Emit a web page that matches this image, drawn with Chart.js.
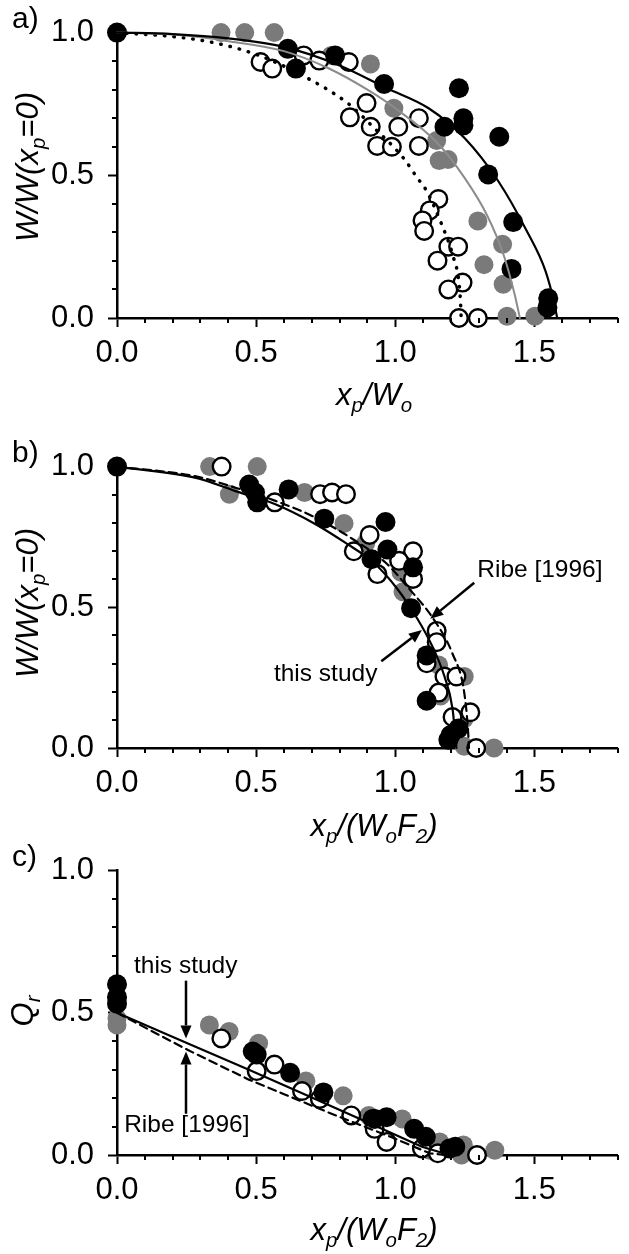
<!DOCTYPE html>
<html>
<head>
<meta charset="utf-8">
<script src="https://cdn.jsdelivr.net/npm/chart.js@4.4.1/dist/chart.umd.min.js"></script>
<style>
  body { margin: 0; background: #fff; width: 629px; height: 1254px; position: relative; overflow: hidden;
         font-family: "Liberation Sans", Arial, sans-serif; color: #000; }
  canvas { position: absolute; left: 0; }
  .lbl { position: absolute; font-size: 30px; line-height: 30px; white-space: nowrap; }
  .xt { position: absolute; font-size: 31px; line-height: 31px; font-style: italic; white-space: nowrap;
        transform: translateX(-50%); }
  .yt { position: absolute; font-size: 31px; line-height: 31px; font-style: italic; white-space: nowrap;
        transform: translate(-50%, -50%) rotate(-90deg); }
  .s { font-size: 0.66em; position: relative; top: 0.32em; }
</style>
</head>
<body>
<canvas id="chartA" width="629" height="400" style="top:0px"></canvas>
<canvas id="chartB" width="629" height="400" style="top:434px"></canvas>
<canvas id="chartC" width="629" height="400" style="top:838px"></canvas>

<div class="lbl" style="left:12px;top:3px">a)</div>
<div class="lbl" style="left:12px;top:437px">b)</div>
<div class="lbl" style="left:12px;top:841px">c)</div>

<div class="yt" style="left:29px;top:167px">W/W(x<span class="s">p</span>=0)</div>
<div class="yt" style="left:29px;top:603px">W/W(x<span class="s">p</span>=0)</div>
<div class="yt" style="left:24px;top:1011px">Q<span class="s">r</span></div>

<div class="xt" style="left:374px;top:379px">x<span class="s">p</span>/W<span class="s">o</span></div>
<div class="xt" style="left:374px;top:810px">x<span class="s">p</span>/(W<span class="s">o</span>F<span class="s">2</span>)</div>
<div class="xt" style="left:374px;top:1214px">x<span class="s">p</span>/(W<span class="s">o</span>F<span class="s">2</span>)</div>

<script>
// axis ticks
const xTicks = [0, 0.5, 1.0, 1.5];
const yTicks = [0, 0.5, 1.0];
const xMinor = [0.1, 0.2, 0.3, 0.4, 0.6, 0.7, 0.8, 0.9, 1.1, 1.2, 1.3, 1.4, 1.6, 1.7, 1.8];
const yMinor = [0.1, 0.2, 0.3, 0.4, 0.6, 0.7, 0.8, 0.9];

// panel a) W/W(xp=0) vs xp/Wo
const aBlack = [[0, 1.0], [0.614, 0.943], [0.643, 0.874], [0.784, 0.92], [0.96, 0.82], [1.229, 0.805],
  [1.177, 0.67], [1.245, 0.70], [1.245, 0.675], [1.374, 0.635], [1.334, 0.503], [1.424, 0.336],
  [1.418, 0.172], [1.55, 0.069], [1.547, 0.037]];
const aGray = [[0.374, 1.0], [0.459, 1.0], [0.565, 1.0], [0.77, 0.92], [0.911, 0.89], [0.995, 0.735],
  [1.149, 0.622], [1.158, 0.552], [1.19, 0.555], [1.297, 0.34], [1.386, 0.258], [1.319, 0.187],
  [1.388, 0.118], [1.402, 0.006], [1.502, 0.006]];
const aOpen = [[0.671, 0.92], [0.516, 0.897], [0.558, 0.874], [0.727, 0.902], [0.833, 0.897],
  [0.897, 0.753], [0.837, 0.703], [0.912, 0.67], [1.011, 0.67], [1.085, 0.70], [0.935, 0.603],
  [0.988, 0.6], [1.085, 0.603], [1.155, 0.417], [1.124, 0.377], [1.098, 0.342], [1.104, 0.305],
  [1.191, 0.25], [1.226, 0.25], [1.152, 0.201], [1.242, 0.124], [1.191, 0.1], [1.229, 0.0], [1.297, 0.0]];
const aSolid = [[0, 1.0], [0.2, 0.995], [0.4, 0.98], [0.6, 0.95], [0.8, 0.885], [0.97, 0.805], [1.12, 0.735],
  [1.25, 0.63], [1.37, 0.48], [1.47, 0.31], [1.54, 0.165], [1.572, 0.05], [1.582, 0]];
const aGrayLine = [[0, 1.0], [0.2, 0.993], [0.4, 0.97], [0.6, 0.935], [0.76, 0.875], [0.9, 0.8], [1.0, 0.735],
  [1.15, 0.615], [1.25, 0.49], [1.33, 0.36], [1.39, 0.22], [1.43, 0.08], [1.448, 0]];
const aDotted = [[0, 1.0], [0.23, 0.983], [0.37, 0.96], [0.51, 0.92], [0.668, 0.849], [0.83, 0.752],
  [0.92, 0.67], [1.03, 0.56], [1.08, 0.49], [1.11, 0.45], [1.165, 0.333], [1.21, 0.21], [1.229, 0.126],
  [1.235, 0.05], [1.237, 0]];

// panel b) W/W(xp=0) vs xp/(Wo F2)
const bBlack = [[0, 1.0], [0.475, 0.936], [0.496, 0.908], [0.504, 0.873], [0.617, 0.919], [0.745, 0.815],
  [0.965, 0.803], [0.915, 0.671], [0.972, 0.705], [1.064, 0.642], [1.057, 0.497], [1.113, 0.329],
  [1.113, 0.168], [1.227, 0.069], [1.199, 0.046], [1.191, 0.029]];
const bGray = [[0.333, 1.0], [0.504, 1.0], [0.404, 0.902], [0.674, 0.908], [0.816, 0.798], [0.894, 0.728],
  [1.021, 0.624], [1.028, 0.555], [1.156, 0.295], [1.248, 0.254], [1.163, 0.185], [1.248, 0.104],
  [1.248, 0.006], [1.355, 0.0]];
const bOpen = [[0.376, 1.0], [0.567, 0.873], [0.73, 0.902], [0.773, 0.908], [0.823, 0.902], [0.851, 0.699],
  [0.908, 0.757], [1.064, 0.699], [1.014, 0.665], [0.936, 0.618], [1.064, 0.601], [1.149, 0.416],
  [1.149, 0.376], [1.113, 0.301], [1.177, 0.254], [1.22, 0.254], [1.156, 0.197], [1.206, 0.11],
  [1.27, 0.127], [1.291, 0.0]];
const bThisStudy = [[0, 1.0], [0.284, 0.96], [0.426, 0.913], [0.567, 0.867], [0.709, 0.798], [0.823, 0.728],
  [0.922, 0.659], [1.007, 0.566], [1.078, 0.462], [1.135, 0.358], [1.177, 0.254], [1.206, 0.139], [1.22, 0]];
const bRibe = [[0, 1.0], [0.284, 0.965], [0.426, 0.925], [0.567, 0.879], [0.709, 0.821], [0.851, 0.74],
  [0.965, 0.659], [1.05, 0.566], [1.135, 0.462], [1.206, 0.335], [1.248, 0.197], [1.262, 0.058], [1.265, 0]];

// panel c) Qr vs xp/(Wo F2)
const cBlack = [[0, 0.6], [0, 0.555], [0, 0.532], [0.488, 0.364], [0.502, 0.353], [0.622, 0.289],
  [0.742, 0.22], [0.926, 0.127], [0.969, 0.133], [1.068, 0.092], [1.11, 0.064], [1.195, 0.023], [1.216, 0.029]];
const cGray = [[0, 0.48], [0, 0.457], [0.332, 0.457], [0.403, 0.434], [0.509, 0.393], [0.679, 0.26],
  [0.813, 0.208], [0.905, 0.139], [1.025, 0.127], [1.16, 0.046], [1.245, 0.035], [1.358, 0.017],
  [1.238, 0], [1.124, 0.017]];
const cOpen = [[0.375, 0.41], [0.502, 0.295], [0.566, 0.318], [0.665, 0.225], [0.729, 0.197], [0.842, 0.139],
  [0.919, 0.127], [0.926, 0.092], [0.969, 0.046], [1.096, 0.023], [1.153, 0.006], [1.294, 0]];
const cThisStudy = [[0, 0.5], [0.255, 0.392], [0.474, 0.30], [0.70, 0.202], [0.912, 0.11], [1.096, 0.029], [1.195, 0]];
const cRibe = [[0, 0.5], [0.255, 0.369], [0.474, 0.265], [0.771, 0.145], [0.983, 0.064], [1.124, 0.006], [1.18, 0]];

// annotations: [text, x, y] and arrows: [x0, y0, x1, y1] (head at x1, y1)
const bNotes = [['Ribe [1996]', 1.52, 0.632], ['this study', 0.75, 0.262]];
const bArrows = [[1.284, 0.587, 1.126, 0.459], [0.95, 0.308, 1.096, 0.419]];
const cNotes = [['this study', 0.247, 0.665], ['Ribe [1996]', 0.251, 0.104]];
const cArrows = [[0.248, 0.613, 0.248, 0.41], [0.248, 0.145, 0.248, 0.364]];

Chart.defaults.font.family = '"Liberation Sans", Arial, sans-serif';
Chart.defaults.color = '#000';

const xy = arr => arr.map(([x, y]) => ({ x, y }));

const dots = (arr, fill, border, r, order) => ({
  data: xy(arr), showLine: false, order, clip: false,
  pointRadius: r, pointHoverRadius: r,
  pointBackgroundColor: fill, pointBorderColor: border || fill, pointBorderWidth: border ? 2.4 : 0
});

const curve = (arr, color, width, dash, straight) => ({
  data: xy(arr), showLine: true, order: 0, clip: false,
  pointRadius: 0, pointHoverRadius: 0,
  borderColor: color, borderWidth: width, borderDash: dash || [],
  borderCapStyle: 'round',
  cubicInterpolationMode: straight ? 'default' : 'monotone', tension: 0
});

// minor ticks, arrows and notes drawn through the scales
const extras = {
  id: 'extras',
  afterDraw(chart, args, opts) {
    const { ctx, scales: { x, y } } = chart;
    ctx.save();
    ctx.strokeStyle = '#000';
    ctx.lineWidth = 2;
    ctx.beginPath();
    xMinor.forEach(v => {
      const px = Math.round(x.getPixelForValue(v));
      ctx.moveTo(px, y.bottom); ctx.lineTo(px, y.bottom + 5);
    });
    yMinor.forEach(v => {
      const py = Math.round(y.getPixelForValue(v));
      ctx.moveTo(x.left, py); ctx.lineTo(x.left - 5, py);
    });
    ctx.stroke();

    ctx.fillStyle = '#000';
    ctx.lineWidth = 2.5;
    (opts.arrows || []).forEach(([x0, y0, x1, y1]) => {
      const ax = x.getPixelForValue(x0), ay = y.getPixelForValue(y0);
      const bx = x.getPixelForValue(x1), by = y.getPixelForValue(y1);
      const ang = Math.atan2(by - ay, bx - ax);
      const hl = 13, hw = 5.5;
      const ex = bx - hl * Math.cos(ang), ey = by - hl * Math.sin(ang);
      ctx.beginPath(); ctx.moveTo(ax, ay); ctx.lineTo(ex, ey); ctx.stroke();
      ctx.beginPath();
      ctx.moveTo(bx, by);
      ctx.lineTo(ex + hw * Math.sin(ang), ey - hw * Math.cos(ang));
      ctx.lineTo(ex - hw * Math.sin(ang), ey + hw * Math.cos(ang));
      ctx.closePath(); ctx.fill();
    });

    ctx.font = '24.5px "Liberation Sans", Arial, sans-serif';
    ctx.textAlign = 'center';
    ctx.textBaseline = 'middle';
    (opts.notes || []).forEach(([t, vx, vy]) => {
      ctx.fillText(t, x.getPixelForValue(vx), y.getPixelForValue(vy));
    });
    ctx.restore();
  }
};

const makePanel = (id, bottomPad, datasets, notes, arrows) => new Chart(document.getElementById(id), {
  type: 'scatter',
  data: { datasets },
  options: {
    responsive: false,
    animation: false,
    devicePixelRatio: 1,
    events: [],
    layout: { padding: { top: 28, right: 1, bottom: bottomPad, left: 0 } },
    plugins: { legend: { display: false }, tooltip: { enabled: false }, extras: { notes, arrows } },
    scales: {
      x: {
        type: 'linear', min: 0, max: 1.8,
        afterBuildTicks: s => { s.ticks = xTicks.map(v => ({ value: v })); },
        afterFit: s => { s.height = 60; },
        border: { display: true, color: '#000', width: 2.5 },
        grid: { display: true, drawOnChartArea: false, drawTicks: true, tickLength: 9, tickWidth: 2, tickColor: '#000' },
        ticks: { font: { size: 31 }, padding: 8, maxRotation: 0, callback: v => v.toFixed(1) }
      },
      y: {
        type: 'linear', min: 0, max: 1.0,
        afterBuildTicks: s => { s.ticks = yTicks.map(v => ({ value: v })); },
        afterFit: s => { s.width = 117; },
        border: { display: true, color: '#000', width: 2.5 },
        grid: { display: true, drawOnChartArea: false, drawTicks: true, tickLength: 9, tickWidth: 2, tickColor: '#000' },
        ticks: { font: { size: 31 }, padding: 14, callback: v => v.toFixed(1) }
      }
    }
  },
  plugins: [extras]
});

makePanel('chartA', 22, [
  curve(aSolid, '#000', 2.2),
  curve(aGrayLine, '#8c8c8c', 2),
  curve(aDotted, '#000', 3.5, [0.5, 9]),
  dots(aBlack, '#000', null, 10, 1),
  dots(aOpen, '#fff', '#000', 8.8, 2),
  dots(aGray, '#7a7a7a', null, 9.5, 3)
]);

makePanel('chartB', 26, [
  curve(bThisStudy, '#000', 2.2),
  curve(bRibe, '#000', 2.2, [8, 5]),
  dots(bBlack, '#000', null, 10, 1),
  dots(bOpen, '#fff', '#000', 8.8, 2),
  dots(bGray, '#7a7a7a', null, 9.5, 3)
], bNotes, bArrows);

makePanel('chartC', 23, [
  curve(cThisStudy, '#000', 2.2, null, true),
  curve(cRibe, '#000', 2.2, [8, 5], true),
  dots(cBlack, '#000', null, 10, 1),
  dots(cOpen, '#fff', '#000', 8.8, 2),
  dots(cGray, '#7a7a7a', null, 9.5, 3)
], cNotes, cArrows);
</script>
</body>
</html>
